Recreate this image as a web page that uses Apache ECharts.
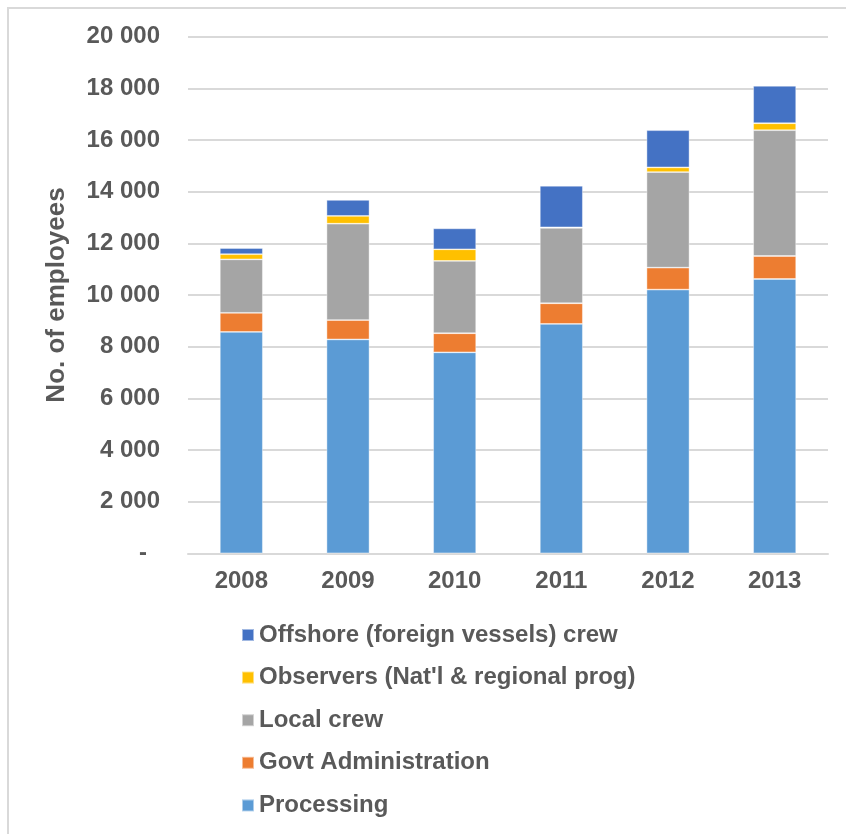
<!DOCTYPE html>
<html>
<head>
<meta charset="utf-8">
<script src="https://cdn.jsdelivr.net/npm/echarts@6/dist/echarts.min.js"></script>
<style>html,body{margin:0;padding:0;background:#fff;}#c{width:846px;height:834px;}</style>
</head>
<body>
<div id="c"></div>
<script>
const categories = ['2008', '2009', '2010', '2011', '2012', '2013'];
const processing = [8570, 8280, 7780, 8880, 10210, 10620];
const govtAdmin = [740, 750, 740, 800, 850, 890];
const localCrew = [2070, 3730, 2800, 2920, 3700, 4870];
const observers = [200, 300, 450, 20, 180, 270];
const offshore = [240, 620, 810, 1610, 1440, 1450];

const seriesNames = ['Processing', 'Govt Administration', 'Local crew', "Observers (Nat'l & regional prog)", 'Offshore (foreign vessels) crew'];
const seriesData = [processing, govtAdmin, localCrew, observers, offshore];
const colors = ['#5B9BD5', '#ED7D31', '#A5A5A5', '#FFC000', '#4472C4'];

const FONT = '"Liberation Sans", Arial, sans-serif';
const TXT = '#595959';

const chart = echarts.init(document.getElementById('c'), null, {renderer: 'canvas'});
chart.setOption({
  animation: false,
  backgroundColor: '#fff',
  graphic: [{
    type: 'rect', silent: true, z: -1,
    shape: {x: 8, y: 8, width: 900, height: 900},
    style: {fill: 'none', stroke: '#d9d9d9', lineWidth: 2}
  }],
  grid: {left: 188, top: 36.7, right: 18, bottom: 280.7, containLabel: false},
  legend: {
    orient: 'vertical', left: 236, top: 618,
    itemWidth: 12, itemHeight: 12, itemGap: 18.6,
    icon: 'rect',
    data: seriesNames.slice().reverse(),
    textStyle: {color: TXT, fontFamily: FONT, fontWeight: 'bold', fontSize: 24, lineHeight: 24}
  },
  xAxis: {
    type: 'category', data: categories,
    axisLine: {lineStyle: {color: '#d9d9d9', width: 2}},
    axisTick: {show: false},
    axisLabel: {color: TXT, fontFamily: FONT, fontWeight: 'bold', fontSize: 24, margin: 16}
  },
  yAxis: {
    type: 'value', min: 0, max: 20000, interval: 2000,
    name: 'No. of employees', nameLocation: 'middle', nameGap: 118, nameRotate: 90,
    nameTextStyle: {color: TXT, fontFamily: FONT, fontWeight: 'bold', fontSize: 26},
    axisLine: {show: false}, axisTick: {show: false},
    splitLine: {lineStyle: {color: '#d9d9d9', width: 2}},
    axisLabel: {
      color: TXT, fontFamily: FONT, fontWeight: 'bold', fontSize: 24, margin: 28,
      formatter: function (v) {
        if (v === 0) return '{d|-}';
        return String(v).replace(/\B(?=(\d{3})+(?!\d))/g, ' ');
      },
      rich: {d: {color: TXT, fontFamily: FONT, fontWeight: 'bold', fontSize: 24, padding: [0, 13, 0, 0]}}
    }
  },
  series: seriesNames.map(function (n, i) {
    return {
      name: n, type: 'bar', stack: 'all', barWidth: 43,
      itemStyle: {color: colors[i], borderColor: 'rgba(255,255,255,0.5)', borderWidth: 0.8},
      data: seriesData[i]
    };
  })
});
</script>
</body>
</html>
